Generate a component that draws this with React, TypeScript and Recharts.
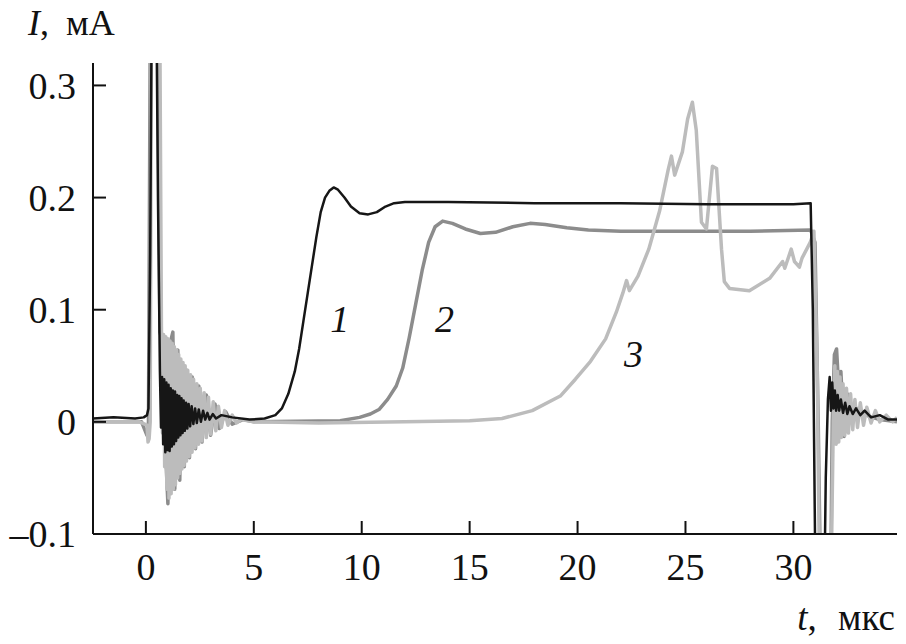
import { LineChart, Line, XAxis, YAxis, ReferenceDot } from 'recharts';

// curve 1 (black)
const t1 = [-2.45, -1.5, -0.5, -0.1, 0.05, 0.12, 0.2, 0.26, 0.5, 0.56,
  0.65, 0.7, 0.75, 0.8, 0.85, 0.9, 0.95, 1.0, 1.05, 1.1, 1.15, 1.2, 1.25, 1.3, 1.35, 1.4, 1.45, 1.5, 1.55, 1.6,
  1.65, 1.7, 1.75, 1.8, 1.86, 1.92, 1.98, 2.05, 2.12, 2.2, 2.28, 2.36, 2.45, 2.55, 2.65, 2.75, 2.85, 2.95, 3.1, 3.25, 3.5,
  4.0, 4.8, 5.5, 6.0, 6.3, 6.6, 6.9, 7.1, 7.3, 7.5, 7.7, 7.9, 8.1, 8.3, 8.5, 8.7, 8.9, 9.2, 9.5, 9.9, 10.3, 10.7,
  11.1, 11.5, 12, 14, 18, 22, 26, 30, 30.8, 30.9, 31.05, 31.4, 31.5,
  31.6, 31.68, 31.74, 31.8, 31.86, 31.92, 31.98, 32.05, 32.12, 32.2, 32.3, 32.4, 32.5, 32.6, 32.75, 32.9, 33.1, 33.3,
  33.6, 34, 34.4, 34.8];
const i1 = [0.003, 0.004, 0.003, 0.004, 0.006, 0.012, 0.15, 0.34, 0.34, 0.2,
  0.045, -0.005, 0.04, -0.02, 0.038, -0.027, 0.035, -0.025, 0.033, -0.026, 0.03, -0.022, 0.028, -0.02, 0.027, -0.017, 0.024, -0.014, 0.023, -0.012,
  0.021, -0.01, 0.019, -0.008, 0.017, -0.006, 0.016, -0.004, 0.014, -0.002, 0.012, -0.001, 0.011, 0.0, 0.01, 0.002, 0.008, 0.002, 0.007, 0.003, 0.006,
  0.004, 0.002, 0.003, 0.006, 0.012, 0.025, 0.045, 0.065, 0.09, 0.115, 0.14, 0.165, 0.187, 0.2, 0.206, 0.209, 0.207, 0.2, 0.192, 0.186, 0.185, 0.187,
  0.192, 0.195, 0.196, 0.196, 0.195, 0.195, 0.194, 0.194, 0.195, 0.1, -0.2, -0.2, -0.05,
  0.02, 0.04, 0.01, 0.035, 0.012, 0.028, 0.01, 0.024, 0.01, 0.02, 0.008, 0.017, 0.007, 0.014, 0.007, 0.012, 0.006, 0.01,
  0.004, 0.006, 0.002, 0.002];

// curve 2 (mid grey)
const t2 = [-2.45, -0.2, 0.05, 0.12, 0.2, 0.55, 0.65,
  0.8, 0.92, 1.02, 1.12, 1.25, 1.34, 1.42, 1.48, 1.57, 1.67, 1.78, 1.9, 2.02, 2.15, 2.3, 2.45, 2.6, 2.8, 3.0, 3.2, 3.4, 3.7, 4.0, 4.5,
  5, 9, 9.9, 10.4, 10.8, 11.2, 11.6, 11.9, 12.2, 12.5, 12.8, 13.1, 13.4, 13.75, 14.2, 14.8, 15.5, 16.2, 17, 17.8, 18.5,
  19.5, 20.5, 22, 25, 28, 30.8, 31.0, 31.15, 31.3, 31.7, 31.8, 31.9, 32.0, 32.1, 32.2, 32.35, 32.5, 32.7, 33, 33.5, 34, 34.8];
const i2 = [0.0, 0.0, -0.012, 0.0, 0.34, 0.34, 0.08,
  0.07, -0.03, -0.073, 0.07, 0.08, -0.06, 0.06, 0.064, -0.052, 0.052, -0.04, 0.046, -0.032, 0.04, -0.024, 0.032, -0.018, 0.024, -0.012, 0.016, -0.006, 0.009, -0.002, 0.002,
  0.0, 0.001, 0.004, 0.007, 0.011, 0.02, 0.032, 0.048, 0.075, 0.105, 0.135, 0.16, 0.174, 0.179, 0.177, 0.172, 0.168, 0.169, 0.174, 0.177, 0.176,
  0.173, 0.171, 0.17, 0.17, 0.17, 0.171, 0.16, 0.0, -0.2, -0.2, 0.0, 0.06, 0.065, 0.03, 0.045, -0.013, 0.025, 0.008, 0.012, 0.005, 0.002, 0.0];

// curve 3 (light grey)
const t3 = [-2.45, -0.3, 0.05, 0.1, 0.15, 0.2, 0.25, 0.65,
  0.72, 0.77, 0.82, 0.87, 0.92, 0.97, 1.02, 1.07, 1.12, 1.17, 1.22, 1.27, 1.32, 1.37, 1.42, 1.47, 1.52, 1.57, 1.62, 1.67,
  1.72, 1.77, 1.82, 1.88, 1.94, 2.0, 2.07, 2.14, 2.21, 2.28, 2.36, 2.44, 2.52, 2.6, 2.7, 2.8, 2.9, 3.0, 3.12, 3.24, 3.36,
  3.5, 3.65, 3.8, 4.0, 4.2, 4.4,
  5, 8, 12, 15, 16.5, 17.9, 19.2, 19.9, 20.6, 21.3, 21.8, 22.1, 22.27, 22.4, 22.8, 23.3, 23.8, 24.2, 24.35, 24.5, 24.86, 25.1,
  25.32, 25.5, 25.74, 25.97, 26.25, 26.44, 26.67, 26.8, 27.04, 27.96, 28.9, 29.5, 29.6, 29.9, 30.05, 30.28, 30.4, 30.78, 30.95,
  31.1, 31.25, 31.7, 31.85, 31.92, 31.98, 32.04, 32.1, 32.16, 32.22, 32.3, 32.38, 32.46, 32.55, 32.65, 32.75, 32.85, 32.97,
  33.1, 33.25, 33.4, 33.6, 33.8, 34.0, 34.3, 34.6, 34.8];
const i3 = [0.0, 0.0, -0.003, -0.018, -0.015, 0.0, 0.34, 0.34,
  0.085, -0.01, 0.078, -0.04, 0.076, -0.06, 0.074, -0.068, 0.072, -0.064, 0.07, -0.06, 0.067, -0.056, 0.064, -0.05, 0.06, -0.046, 0.056, -0.042,
  0.053, -0.039, 0.05, -0.035, 0.046, -0.031, 0.042, -0.027, 0.038, -0.023, 0.034, -0.02, 0.03, -0.017, 0.026, -0.014, 0.022, -0.011, 0.018, -0.008, 0.014,
  -0.005, 0.01, -0.003, 0.006, -0.001, 0.002,
  0.0, -0.001, 0.0, 0.001, 0.003, 0.01, 0.023, 0.038, 0.054, 0.074, 0.098, 0.115, 0.126, 0.117, 0.13, 0.154, 0.188, 0.225, 0.237, 0.22, 0.241, 0.27,
  0.285, 0.26, 0.178, 0.172, 0.228, 0.226, 0.154, 0.125, 0.119, 0.117, 0.128, 0.143, 0.137, 0.154, 0.143, 0.138, 0.146, 0.16, 0.17,
  0.05, -0.2, -0.2, 0.0, 0.05, -0.02, 0.045, -0.018, 0.04, -0.014, 0.034, -0.012, 0.03, -0.01, 0.025, -0.007, 0.02, -0.005,
  0.017, -0.003, 0.013, -0.001, 0.01, 0.0, 0.006, 0.0, 0.004];

const xTicks = [0, 5, 10, 15, 20, 25, 30];
const yTicks = [-0.1, 0, 0.1, 0.2, 0.3];

// curve labels: [text, t, I]
const curveLabels: [string, number, number][] = [
  ['1', 8.98, 0.08],
  ['2', 13.84, 0.08],
  ['3', 22.59, 0.049],
];

const toPoints = (t: number[], v: number[]) => t.map((x, k) => ({ t: x, i: v[k] }));

const FONT = '"Liberation Serif", "Times New Roman", serif';
const tickStyle = { fill: '#111', fontSize: 38, fontFamily: FONT };

const fmtY = (v: number) => (v < 0 ? '\u2013' + Math.abs(v) : String(v));

export default function App() {
  const d1 = toPoints(t1, i1);
  const d2 = toPoints(t2, i2);
  const d3 = toPoints(t3, i3);

  return (
    <div style={{ position: 'absolute', left: 0, top: 0, width: 906, height: 644, background: '#fff' }}>
      <LineChart width={906} height={644} margin={{ top: 63, right: 9, bottom: 50, left: 33 }}>
        <XAxis
          type="number"
          dataKey="t"
          domain={[-2.45, 34.8]}
          allowDataOverflow
          ticks={xTicks}
          tickSize={-13}
          tickMargin={32}
          height={60}
          axisLine={{ stroke: '#111', strokeWidth: 2 }}
          tickLine={{ stroke: '#111', strokeWidth: 2 }}
          tick={tickStyle}
        />
        <YAxis
          type="number"
          domain={[-0.1, 0.32]}
          allowDataOverflow
          ticks={yTicks}
          tickSize={-13}
          tickMargin={30}
          width={60}
          axisLine={{ stroke: '#111', strokeWidth: 2 }}
          tickLine={{ stroke: '#111', strokeWidth: 2 }}
          tick={tickStyle}
          tickFormatter={fmtY}
        />
        <Line data={d2} dataKey="i" type="linear" stroke="#8c8c8c" strokeWidth={3.5} dot={false} isAnimationActive={false} strokeLinejoin="round" />
        <Line data={d3} dataKey="i" type="linear" stroke="#bcbcbc" strokeWidth={3.5} dot={false} isAnimationActive={false} strokeLinejoin="round" />
        <Line data={d1} dataKey="i" type="linear" stroke="#161616" strokeWidth={2.5} dot={false} isAnimationActive={false} strokeLinejoin="round" />
        {curveLabels.map(([txt, x, y]) => (
          <ReferenceDot
            key={txt}
            x={x}
            y={y}
            r={0}
            shape={(p: any) => (
              <text x={p.cx} y={p.cy} textAnchor="middle" fontFamily={FONT} fontSize={38} fontStyle="italic" fill="#111">
                {txt}
              </text>
            )}
          />
        ))}
      </LineChart>
      <div style={{ position: 'absolute', left: 28, top: 5, fontFamily: FONT, fontSize: 36, lineHeight: '36px', wordSpacing: 8, color: '#111', whiteSpace: 'nowrap' }}>
        <i>I</i>, мА
      </div>
      <div style={{ position: 'absolute', right: 11, top: 600, fontFamily: FONT, fontSize: 37, lineHeight: '36px', wordSpacing: 12, color: '#111', whiteSpace: 'nowrap' }}>
        <i>t</i>, мкс
      </div>
    </div>
  );
}
